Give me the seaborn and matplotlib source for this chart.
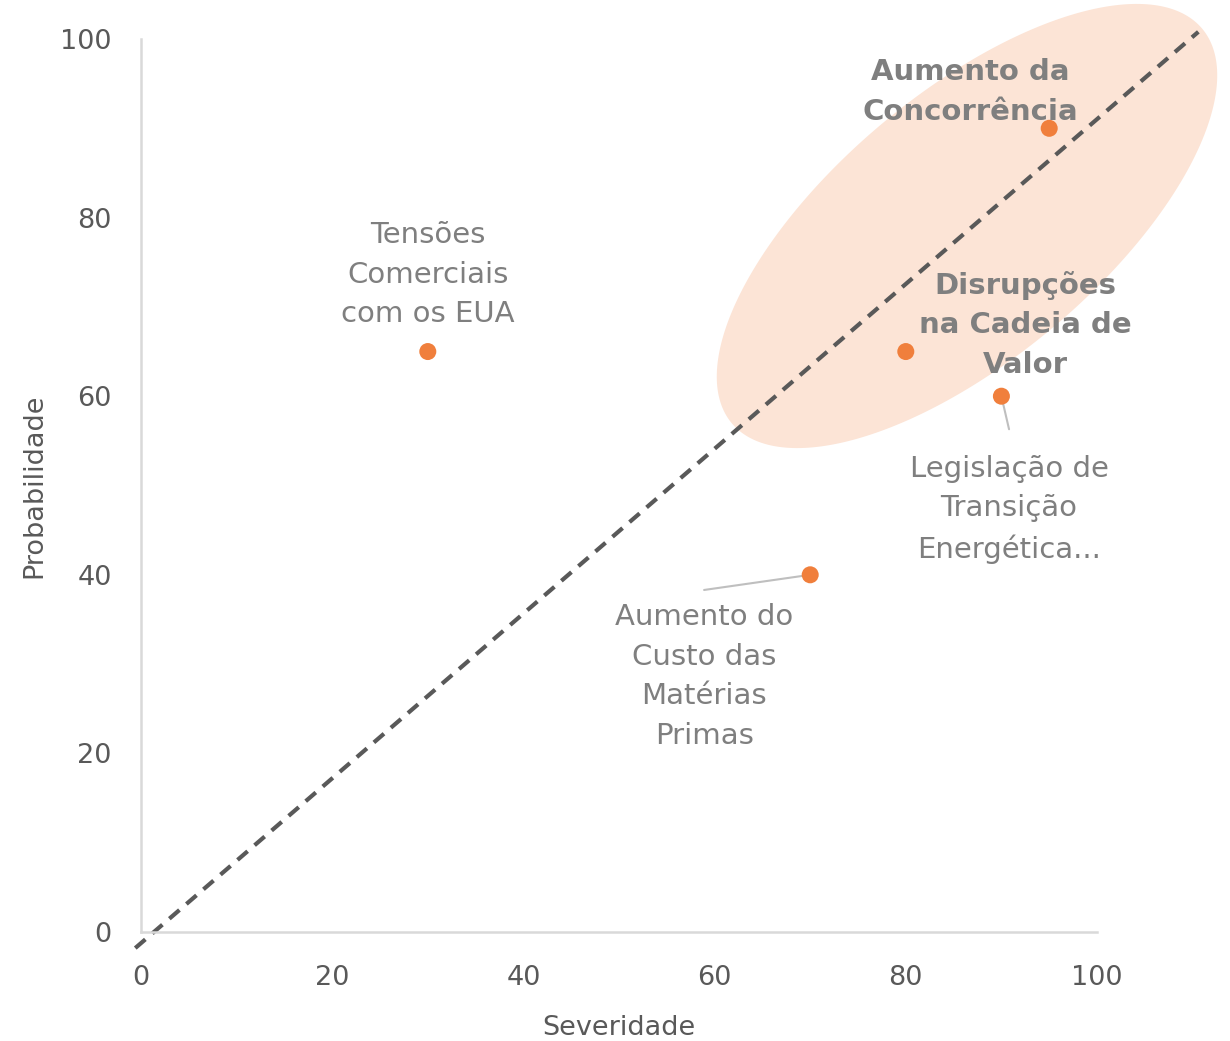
import numpy as np
import pandas as pd
import matplotlib
matplotlib.use("Agg")
import matplotlib.pyplot as plt
import seaborn as sns

# ---- data ----
labels = [
    "Tensões\nComerciais\ncom os EUA",
    "Aumento do\nCusto das\nMatérias\nPrimas",
    "Disrupções\nna Cadeia de\nValor",
    "Legislação de\nTransição\nEnergética...",
    "Aumento da\nConcorrência",
]
severidade = [30, 70, 80, 90, 95]
probabilidade = [65, 40, 65, 60, 90]
label_x = [30, 58.9, 92.5, 90.8, 86.7]
label_y = [73.6, 28.6, 68.0, 47.3, 94.1]
label_bold = [False, False, True, False, True]
trend_x = [-0.6, 110.6]
trend_y = [-1.8, 100.8]
ticks = [0, 20, 40, 60, 80, 100]

df = pd.DataFrame({"Severidade": severidade, "Probabilidade": probabilidade})

sns.set_style("white")
plt.rcParams["font.family"] = ["DejaVu Sans"]

fig = plt.figure(figsize=(12.3, 10.41), dpi=100)
ax = fig.add_axes([141/1230, 1 - 932/1041, (1097-141)/1230, (932-39)/1041])
ax.set_xlim(0, 100)
ax.set_ylim(0, 100)

# highlighted ellipse (drawn in pixel-like space then converted)
sx, sy = 9.56, 8.93
cxp, cyp = 967 - 141, 932 - 226
a, b, th = 307, 133, np.deg2rad(40)
t = np.linspace(0, 2*np.pi, 300)
ex = (cxp + a*np.cos(t)*np.cos(th) - b*np.sin(t)*np.sin(th)) / sx
ey = (cyp + a*np.cos(t)*np.sin(th) + b*np.sin(t)*np.cos(th)) / sy
ax.fill(ex, ey, color="#FCE4D6", lw=0, zorder=0, clip_on=False)

# dashed line
ax.plot(trend_x, trend_y, ls=(0, (3.2, 2.2)), color="#595959", lw=3, clip_on=False, zorder=2)

sns.scatterplot(data=df, x="Severidade", y="Probabilidade", ax=ax, color="#F07F3C",
                s=150, edgecolor="none", zorder=4, clip_on=False)

for i, lab in enumerate(labels):
    ax.text(label_x[i], label_y[i], lab, ha="center", va="center", fontsize=21,
            color="#7F7F7F", fontweight="bold" if label_bold[i] else "normal",
            linespacing=1.53, zorder=5)

# leader lines
ax.plot([70, 58.9], [40, 38.3], color="#BFBFBF", lw=1.5, zorder=3)
ax.plot([90, 90.8], [60, 56.3], color="#BFBFBF", lw=1.5, zorder=3)

ax.set_xticks(ticks)
ax.set_yticks(ticks)
ax.tick_params(axis="both", length=0, labelsize=19.5, labelcolor="#595959")
ax.tick_params(axis="x", pad=24)
ax.tick_params(axis="y", pad=21)
for s in ["top", "right"]:
    ax.spines[s].set_visible(False)
for s in ["left", "bottom"]:
    ax.spines[s].set_color("#D9D9D9")
    ax.spines[s].set_linewidth(1.8)
ax.set_xlabel("Severidade", fontsize=19.5, color="#595959", labelpad=17)
ax.set_ylabel("Probabilidade", fontsize=19.5, color="#595959", labelpad=9)

fig.savefig("out.png", dpi=100)
